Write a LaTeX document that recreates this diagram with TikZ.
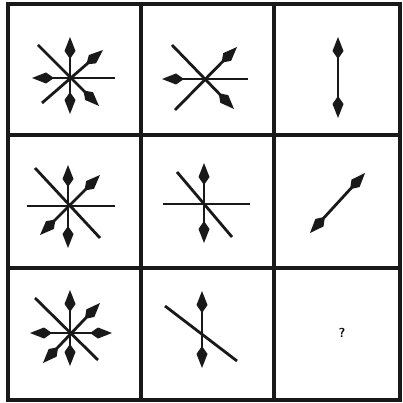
\documentclass[tikz,border=0pt]{standalone}
\usepackage{tikz}
\usetikzlibrary{arrows.meta}

\begin{document}
\begin{tikzpicture}[
    x=1pt, y=-1pt,
    gridline/.style={line width=3.2pt, black!90},
    spoke/.style={line width=2.8pt, black!90},
    tip/.style={spoke, -{Kite[length=22pt, width=11pt, inset=8pt]}},
    both/.style={spoke, {Kite[length=22pt, width=11pt, inset=8pt]}-{Kite[length=22pt, width=11pt, inset=8pt]}}
  ]
    \useasboundingbox (0,0) rectangle (403,403);
    \fill[white] (0,0) rectangle (403,403);

    % grid
    \draw[gridline] (8,4) rectangle (400,400);
    \draw[gridline] (141,4) -- (141,400);
    \draw[gridline] (274,4) -- (274,400);
    \draw[gridline] (8,135) -- (400,135);
    \draw[gridline] (8,268) -- (400,268);

    % row 1
    \draw[tip] (115,78) -- (32,78);
    \draw[both] (70,37) -- (70,114);
    \draw[tip] (42,103) -- (103,50);
    \draw[tip] (38,45) -- (99,106);

    \draw[tip] (248,79) -- (162,79);
    \draw[tip] (175,110) -- (237,47);
    \draw[tip] (172,45) -- (234,109);

    \draw[both] (338,37) -- (338,118);

    % row 2
    \draw[spoke] (27,206) -- (115,206);
    \draw[both] (68,165) -- (68,248);
    \draw[both] (40,235) -- (100,175);
    \draw[spoke] (35,168) -- (100,238);

    \draw[spoke] (163,204) -- (250,204);
    \draw[spoke] (177,172) -- (232,237);
    \draw[both] (204,163) -- (204,243);

    \draw[both] (310,233) -- (365,173);

    % row 3
    \draw[both] (30,333) -- (112,333);
    \draw[both] (70,290) -- (70,366);
    \draw[both] (43,363) -- (100,303);
    \draw[spoke] (35,298) -- (98,360);

    \draw[spoke] (165,306) -- (237,361);
    \draw[both] (202,291) -- (202,368);

    \node[font=\sffamily\bfseries\fontsize{13}{15}\selectfont] (q) at (342,333) {?};
  \end{tikzpicture}
\end{document}
